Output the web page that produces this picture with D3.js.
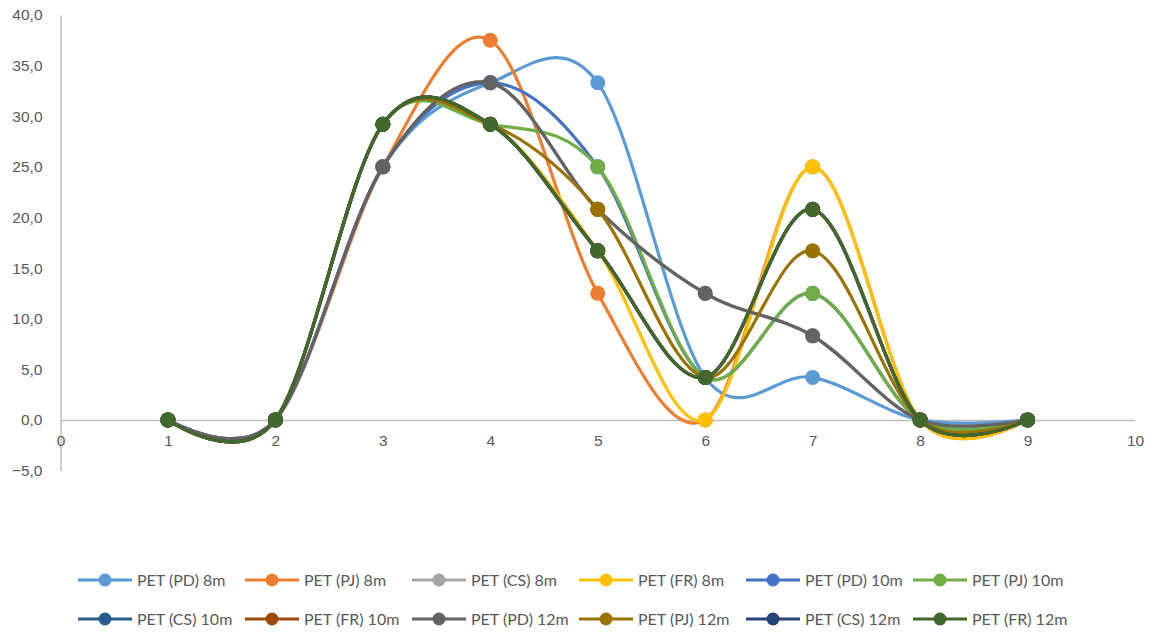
<!DOCTYPE html>
<html>
<head>
<meta charset="utf-8">
<script src="https://cdn.jsdelivr.net/npm/d3@7"></script>
<style>
  html, body { margin: 0; padding: 0; background: #fff; }
  svg { display: block; font-family: Lato, "Open Sans", "Liberation Sans", sans-serif; }
</style>
</head>
<body>
<svg id="chart" width="1154" height="634"></svg>
<script>
// Sampling positions along the x axis
const xValues = [1, 2, 3, 4, 5, 6, 7, 8, 9];

// Series names, in drawing order
const seriesNames = [
  "PET (PD) 8m", "PET (PJ) 8m", "PET (CS) 8m", "PET (FR) 8m",
  "PET (PD) 10m", "PET (PJ) 10m", "PET (CS) 10m", "PET (FR) 10m",
  "PET (PD) 12m", "PET (PJ) 12m", "PET (CS) 12m", "PET (FR) 12m"
];

// Values for each series
const pd8  = [0, 0, 25.0, 33.3, 33.3, 4.2, 4.2, 0, 0];
const pj8  = [0, 0, 25.0, 37.5, 12.5, 0, 25.0, 0, 0];
const cs8  = [0, 0, 25.0, 33.3, 20.8, 12.5, 8.3, 0, 0];
const fr8  = [0, 0, 29.2, 29.2, 16.7, 0, 25.0, 0, 0];
const pd10 = [0, 0, 25.0, 33.3, 25.0, 4.2, 12.5, 0, 0];
const pj10 = [0, 0, 29.2, 29.2, 25.0, 4.2, 12.5, 0, 0];
const cs10 = [0, 0, 29.2, 29.2, 16.7, 4.2, 20.8, 0, 0];
const fr10 = [0, 0, 29.2, 29.2, 16.7, 4.2, 20.8, 0, 0];
const pd12 = [0, 0, 25.0, 33.3, 20.8, 12.5, 8.3, 0, 0];
const pj12 = [0, 0, 29.2, 29.2, 20.8, 4.2, 16.7, 0, 0];
const cs12 = [0, 0, 29.2, 29.2, 16.7, 4.2, 20.8, 0, 0];
const fr12 = [0, 0, 29.2, 29.2, 16.7, 4.2, 20.8, 0, 0];

const seriesValues = [pd8, pj8, cs8, fr8, pd10, pj10, cs10, fr10, pd12, pj12, cs12, fr12];

const seriesColors = [
  "#5B9BD5", "#ED7D31", "#A5A5A5", "#FFC000",
  "#4472C4", "#70AD47", "#255E91", "#9E480E",
  "#636363", "#997300", "#264478", "#43682B"
];

// Axis ticks
const yTicks = [-5, 0, 5, 10, 15, 20, 25, 30, 35, 40];
const xTicks = [0, 1, 2, 3, 4, 5, 6, 7, 8, 9, 10];

const svg = d3.select("#chart");

const x = d3.scaleLinear().domain([0, 10]).range([60.5, 1135]);
const y = d3.scaleLinear().domain([-5, 40]).range([470.5, 15]);

const axisColor = "#BFBFBF";
const labelColor = "#595959";
const fmt = v => d3.format(".1f")(v).replace(".", ",");

// Vertical axis
const yAxis = svg.append("g")
  .attr("transform", `translate(${x(0)},0)`)
  .call(d3.axisLeft(y).tickValues(yTicks).tickSize(0).tickPadding(18).tickFormat(fmt));
yAxis.select(".domain").attr("stroke", axisColor).attr("stroke-width", 1.5);
yAxis.selectAll("text").attr("fill", labelColor).attr("font-size", 15.5);

// Horizontal axis through zero
const xAxis = svg.append("g")
  .attr("transform", `translate(0,${y(0)})`)
  .call(d3.axisBottom(x).tickValues(xTicks).tickSize(0).tickPadding(15).tickFormat(d3.format("d")));
xAxis.select(".domain").attr("stroke", axisColor).attr("stroke-width", 1.5);
xAxis.selectAll("text").attr("fill", labelColor).attr("font-size", 15.5);

// Smoothed lines and markers
const line = d3.line()
  .x((d, i) => x(xValues[i]))
  .y(d => y(d))
  .curve(d3.curveCardinal.tension(0));

const plot = svg.append("g");
seriesValues.forEach((vals, s) => {
  const g = plot.append("g");
  g.append("path")
    .attr("d", line(vals))
    .attr("fill", "none")
    .attr("stroke", seriesColors[s])
    .attr("stroke-width", 3.2)
    .attr("stroke-linejoin", "round")
    .attr("stroke-linecap", "round");
  g.selectAll("circle")
    .data(vals)
    .join("circle")
    .attr("cx", (d, i) => x(xValues[i]))
    .attr("cy", d => y(d))
    .attr("r", 7.5)
    .attr("fill", seriesColors[s]);
});

// Legend: two rows of six
const legend = svg.append("g");
const colW = 167, rowYs = [580, 619], startX = 78;
seriesNames.forEach((name, i) => {
  const row = Math.floor(i / 6), col = i % 6;
  const lx = startX + col * colW, ly = rowYs[row];
  const item = legend.append("g").attr("transform", `translate(${lx},${ly})`);
  item.append("line")
    .attr("x1", 0).attr("x2", 54).attr("y1", 0).attr("y2", 0)
    .attr("stroke", seriesColors[i]).attr("stroke-width", 3.2);
  item.append("circle")
    .attr("cx", 27).attr("cy", 0).attr("r", 6.5)
    .attr("fill", seriesColors[i]);
  item.append("text")
    .attr("x", 59).attr("y", 0).attr("dy", "0.35em")
    .attr("fill", labelColor).attr("font-size", 16)
    .text(name);
});
</script>
</body>
</html>
